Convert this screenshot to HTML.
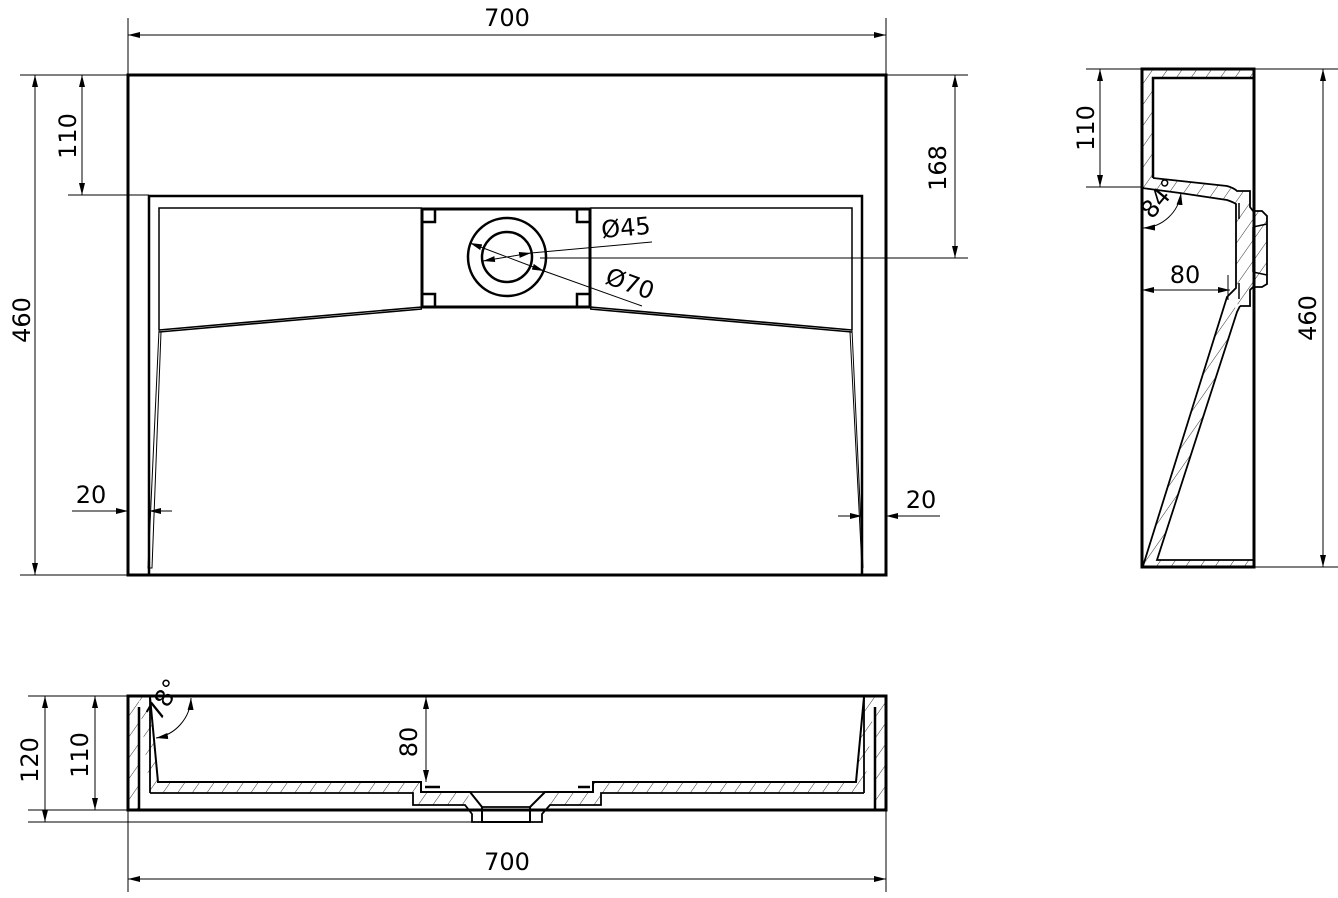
<!DOCTYPE html>
<html><head><meta charset="utf-8"><style>
html,body{margin:0;padding:0;background:#fff;}
svg{display:block;}
text{font-family:"DejaVu Sans","Liberation Sans",sans-serif;font-size:24px;fill:#000;}
</style></head><body>
<svg width="1338" height="898" viewBox="0 0 1338 898" xmlns="http://www.w3.org/2000/svg">
<defs>
<marker id="a" viewBox="0 0 12 6" refX="12" refY="3" markerWidth="12" markerHeight="6" orient="auto-start-reverse" markerUnits="userSpaceOnUse"><path d="M0,0 L12,3 L0,6 z" fill="#000"/></marker>
<pattern id="h" width="12" height="12" patternUnits="userSpaceOnUse" patternTransform="rotate(35)"><line x1="0" y1="0" x2="0" y2="12" stroke="#000" stroke-width="0.8"/></pattern>
</defs>
<g fill="none" stroke="#000">
<!-- TOP VIEW -->
<rect x="128" y="75" width="758" height="500" stroke-width="3"/>
<polyline points="149,575 149,196 862,196 862,575" stroke-width="2.5"/>
<polyline points="159,330 159,208 422,208" stroke-width="1.5"/>
<polyline points="590,208 852,208 852,330" stroke-width="1.5"/>
<rect x="422" y="209" width="168" height="98" stroke-width="3"/>
<path d="M422,222 h13 v-13 M590,222 h-13 v-13 M422,294 h13 v13 M590,294 h-13 v13" stroke-width="2.5"/>
<path d="M159,330 L422,307 L440,307 M159,332 L422,309" stroke-width="1.6"/>
<path d="M852,330 L590,307 L572,307 M852,332 L590,309" stroke-width="1.6"/>
<path d="M159,330 L148,568 L152,568 L161,332 M852,330 L863,568 M850,332 L862,568" stroke-width="1"/>
<circle cx="507" cy="257" r="39" stroke-width="2.5"/>
<circle cx="507" cy="257" r="25" stroke-width="2.5"/>
<line x1="483" y1="261" x2="531" y2="253" stroke-width="1" marker-start="url(#a)" marker-end="url(#a)"/>
<line x1="531" y1="253" x2="652" y2="242" stroke-width="1"/>
<line x1="470" y1="243" x2="544" y2="271" stroke-width="1" marker-start="url(#a)" marker-end="url(#a)"/>
<line x1="544" y1="271" x2="642" y2="306" stroke-width="1"/>
<!-- dims top view -->
<path d="M128,18 V75 M886,18 V75" stroke-width="1"/>
<line x1="128" y1="35" x2="886" y2="35" stroke-width="1" marker-start="url(#a)" marker-end="url(#a)"/>
<path d="M20,75 H128 M886,75 H968 M20,575 H128 M68,195 H149 M540,258 H968" stroke-width="1"/>
<line x1="35" y1="75" x2="35" y2="575" stroke-width="1" marker-start="url(#a)" marker-end="url(#a)"/>
<line x1="82" y1="75" x2="82" y2="195" stroke-width="1" marker-start="url(#a)" marker-end="url(#a)"/>
<line x1="955" y1="75" x2="955" y2="258" stroke-width="1" marker-start="url(#a)" marker-end="url(#a)"/>
<line x1="72" y1="511" x2="128" y2="511" stroke-width="1" marker-end="url(#a)"/>
<line x1="172" y1="511" x2="149" y2="511" stroke-width="1" marker-end="url(#a)"/>
<line x1="838" y1="516" x2="862" y2="516" stroke-width="1" marker-end="url(#a)"/>
<line x1="940" y1="516" x2="886" y2="516" stroke-width="1" marker-end="url(#a)"/>

<!-- SIDE VIEW -->
<path d="M1142,69 H1254 V78 H1153 V178 L1142,188 Z" fill="url(#h)" stroke="none"/>
<path d="M1142,567 H1254 V560 H1157 L1237,310 L1227,297 Z" fill="url(#h)" stroke="none"/>
<path d="M1153,178 L1227,186 L1237,191 L1250,191 L1250,207 L1253,211 L1262,211 L1267,216 L1267,284 L1262,287 L1253,287 L1250,290 L1250,306 L1240,306 L1227,297 L1236,287 L1236,203 L1227,200 L1180,193 L1142,188 Z" fill="url(#h)" stroke="none"/>
<rect x="1142" y="69" width="112" height="498" stroke-width="3"/>
<polyline points="1254,78 1153,78 1153,178" stroke-width="2.5"/>
<path d="M1153,178 L1227,186 Q1234,188 1237,191 L1250,191 L1250,207 L1253,211 L1262,211 L1267,216 L1267,284 L1262,287 L1253,287 L1250,290 L1250,306 L1240,306" stroke-width="1.8"/>
<path d="M1142,188 L1180,193 L1227,200 Q1233,202 1236,204 L1236,288 L1227,297 L1143,566" stroke-width="1.8"/>
<path d="M1240,306 L1237,312 L1157,560 L1254,560" stroke-width="1.8"/>
<path d="M1239,203 V219 M1239,283 V299 M1253,227 V272 M1253,227 L1267,224 M1253,272 L1267,275" stroke-width="1.5"/>
<path d="M1086,187 H1142 M1086,69 H1142 M1254,69 H1338 M1254,567 H1338" stroke-width="1"/>
<line x1="1100" y1="69" x2="1100" y2="187" stroke-width="1" marker-start="url(#a)" marker-end="url(#a)"/>
<line x1="1323" y1="69" x2="1323" y2="567" stroke-width="1" marker-start="url(#a)" marker-end="url(#a)"/>
<line x1="1142" y1="290" x2="1230" y2="290" stroke-width="1" marker-start="url(#a)" marker-end="url(#a)"/>
<line x1="1228" y1="275" x2="1228" y2="300" stroke-width="1"/>
<path d="M1143,228 A40,40 0 0 0 1181,193" stroke-width="1" marker-start="url(#a)" marker-end="url(#a)"/>

<!-- BOTTOM VIEW -->
<path d="M128,696 H139 V810 H128 Z M150,696 L158,782 L421,782 L421,792 L470,792 L465,805 L413,805 L413,793 L150,793 L139,696 Z" fill="url(#h)" stroke="none"/>
<path d="M886,696 H875 V810 H886 Z M864,696 L856,782 L593,782 L593,792 L545,792 L550,805 L601,805 L601,793 L864,793 L875,696 Z" fill="url(#h)" stroke="none"/>
<rect x="128" y="696" width="758" height="114" stroke-width="3"/>
<path d="M139,707 V810 M875,707 V810" stroke-width="2.5"/>
<path d="M150,697 L158,782 L421,782 L421,792 L470,792 L482,807 L482,822 L530,822 L530,807 L545,792 L593,792 L593,782 L856,782 L864,697" stroke-width="2"/>
<path d="M150,697 L150,793 M864,697 L864,793 M150,793 L413,793 L413,805 L465,805 L472,814 L472,822 L482,822 M864,793 L601,793 L601,805 L550,805 L542,814 L542,822 L530,822 M470,792 H545 M482,807 H530" stroke-width="1.8"/>
<path d="M425,787 H440 M578,787 H590" stroke-width="2.5"/>
<path d="M28,696 H128 M28,810 H128 M95,696 H128 M28,822 H472 M128,810 V892 M886,810 V892" stroke-width="1"/>
<line x1="45" y1="696" x2="45" y2="822" stroke-width="1" marker-start="url(#a)" marker-end="url(#a)"/>
<line x1="95" y1="696" x2="95" y2="810" stroke-width="1" marker-start="url(#a)" marker-end="url(#a)"/>
<line x1="426" y1="697" x2="426" y2="782" stroke-width="1" marker-start="url(#a)" marker-end="url(#a)"/>
<line x1="128" y1="879" x2="886" y2="879" stroke-width="1" marker-start="url(#a)" marker-end="url(#a)"/>
<path d="M156,738 A42,42 0 0 0 191,698" stroke-width="1" marker-start="url(#a)" marker-end="url(#a)"/>
</g>
<g>
<text x="507" y="26" text-anchor="middle">700</text>
<text x="507" y="870" text-anchor="middle">700</text>
<text transform="translate(30,320) rotate(-90)" text-anchor="middle">460</text>
<text transform="translate(76,136) rotate(-90)" text-anchor="middle">110</text>
<text transform="translate(946,168) rotate(-90)" text-anchor="middle">168</text>
<text x="91" y="503" text-anchor="middle">20</text>
<text x="921" y="508" text-anchor="middle">20</text>
<text transform="translate(602,238) rotate(-5)" font-size="20">&#216;45</text>
<text transform="translate(604,283) rotate(20)" font-size="20">&#216;70</text>
<text transform="translate(1094,128) rotate(-90)" text-anchor="middle">110</text>
<text transform="translate(1316,318) rotate(-90)" text-anchor="middle">460</text>
<text x="1185" y="283" text-anchor="middle">80</text>
<text transform="translate(1152,220) rotate(-50)" font-size="14">84°</text>
<text transform="translate(38,760) rotate(-90)" text-anchor="middle">120</text>
<text transform="translate(88,755) rotate(-90)" text-anchor="middle">110</text>
<text transform="translate(417,742) rotate(-90)" text-anchor="middle" font-size="20">80</text>
<text transform="translate(160,722) rotate(-60)" font-size="14">78°</text>
</g>
</svg>
</body></html>
